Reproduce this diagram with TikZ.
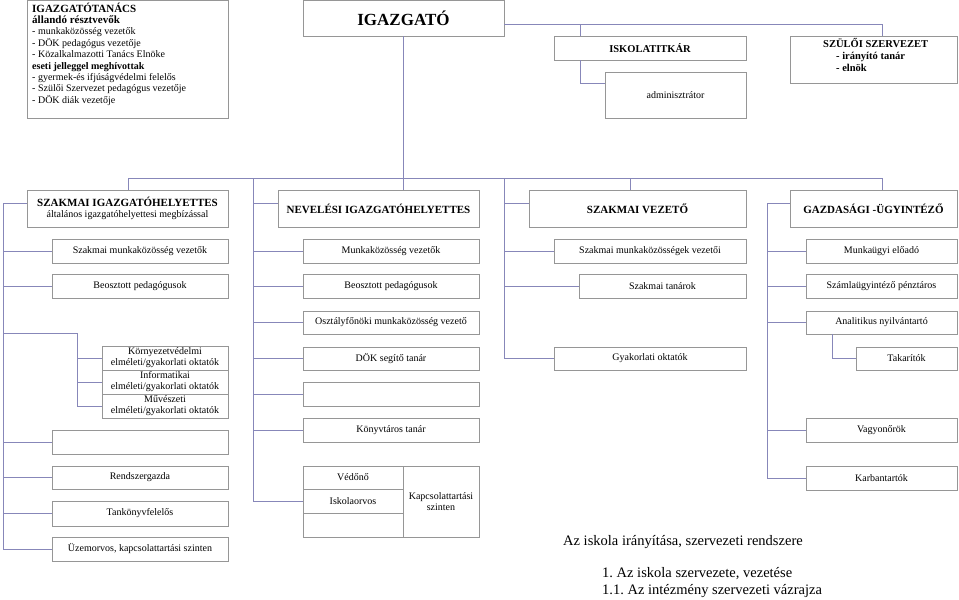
\documentclass[tikz,border=0pt]{standalone}
\usepackage{fontspec}
\setmainfont{Liberation Serif}
\frenchspacing
\definecolor{lnc}{RGB}{135,135,185}
\definecolor{boxc}{RGB}{150,150,150}
\newcommand\obox[6]{\node[bx, minimum width={#4-#2}, minimum height={#5-#3}] (#1) at ({(#2+#4)/2},{(#3+#5)/2}) {#6};}
\tikzset{
  bx/.style={draw=boxc, line width=0.8pt, rectangle, inner sep=0pt, align=center, font=\fontsize{10}{11}\selectfont},
  ln/.style={draw=lnc, line width=0.8pt},
  capt/.style={anchor=west, inner sep=0pt, font=\fontsize{14.5}{17}\selectfont},
}
\newcommand\hdr{\bfseries\fontsize{11}{13}\selectfont}
\begin{document}
\begin{tikzpicture}[x=1pt,y=-1pt]
\useasboundingbox (0,0) rectangle (959,600);
% top row
\obox{tanacs}{27}{0.5}{228}{118}{}
\node[anchor=north west, inner sep=0pt, align=left, font=\fontsize{10}{11.4}\selectfont] (tanacstxt) at (32,2.5)
 {{\hdr IGAZGATÓTANÁCS}\\{\hdr állandó résztvevők}\\- munkaközösség vezetők\\- DÖK pedagógus vezetője\\- Közalkalmazotti Tanács Elnöke\\\textbf{eseti jelleggel meghívottak}\\- gyermek-és ifjúságvédelmi felelős\\- Szülői Szervezet pedagógus vezetője\\- DÖK diák vezetője};
\obox{igaz}{303}{0.5}{504}{36}{\bfseries\fontsize{17}{20}\selectfont IGAZGATÓ}
\obox{titkar}{554}{36}{746}{60}{\bfseries\fontsize{10.5}{12}\selectfont ISKOLATITKÁR}
\obox{admin}{605}{72}{746}{118}{adminisztrátor}
\obox{szuloi}{790}{36}{957}{83}{}
\node[anchor=north west, inner sep=0pt, align=left, font=\bfseries\fontsize{10.5}{12}\selectfont] (szuloitxt) at (823,38)
 {SZÜLŐI SZERVEZET\\\hspace*{13pt}- irányító tanár\\\hspace*{13pt}- elnök};
% row 1
\obox{sih}{27}{190}{228}{227}{{\hdr SZAKMAI IGAZGATÓHELYETTES}\\általános igazgatóhelyettesi megbízással}
\obox{nih}{278}{190}{479}{227}{\hdr NEVELÉSI IGAZGATÓHELYETTES}
\obox{szv}{529}{190}{746}{227}{\hdr SZAKMAI VEZETŐ}
\obox{gaz}{790}{190}{957}{227}{\hdr GAZDASÁGI -ÜGYINTÉZŐ}
% row 2
\obox{r2a}{52}{239}{228}{263}{Szakmai munkaközösség vezetők}
\obox{r2b}{303}{239}{479}{263}{Munkaközösség vezetők}
\obox{r2c}{554}{239}{746}{263}{Szakmai munkaközösségek vezetői}
\obox{r2d}{806}{239}{957}{263}{Munkaügyi előadó}
% row 3
\obox{r3a}{52}{274}{228}{298}{Beosztott pedagógusok}
\obox{r3b}{303}{274}{479}{298}{Beosztott pedagógusok}
\obox{r3c}{579}{274}{746}{298}{Szakmai tanárok}
\obox{r3d}{806}{274}{957}{298}{Számlaügyintéző pénztáros}
% row 4
\obox{r4b}{303}{311}{479}{334}{Osztályfőnöki munkaközösség vezető}
\obox{r4d}{806}{311}{957}{334}{Analitikus nyilvántartó}
% left subgroup
\obox{k1}{102}{346}{228}{370}{Környezetvédelmi\\elméleti/gyakorlati oktatók}
\obox{k2}{102}{370}{228}{394}{Informatikai\\elméleti/gyakorlati oktatók}
\obox{k3}{102}{394}{228}{418}{Művészeti\\elméleti/gyakorlati oktatók}
\obox{eleft}{52}{430}{228}{454}{}
\obox{rendsz}{52}{466}{228}{489}{Rendszergazda}
\obox{tank}{52}{501}{228}{526}{Tankönyvfelelős}
\obox{uzem}{52}{537}{228}{561}{Üzemorvos, kapcsolattartási szinten}
% middle
\obox{dok}{303}{347}{479}{370}{DÖK segítő tanár}
\obox{emid}{303}{382}{479}{406}{}
\obox{konyv}{303}{418}{479}{442}{Könyvtáros tanár}
\obox{vedo}{303}{466}{403}{489}{Védőnő}
\obox{isko}{303}{489}{403}{513}{Iskolaorvos}
\obox{tempty}{303}{513}{403}{537}{}
\obox{kapcs}{403}{466}{479}{537}{Kapcsolattartási\\szinten}
% right
\obox{gyak}{554}{347}{746}{370}{Gyakorlati oktatók}
\obox{takar}{856}{347}{957}{370}{Takarítók}
\obox{vagyon}{806}{418}{957}{442}{Vagyonőrök}
\obox{karban}{806}{466}{957}{490}{Karbantartók}
% captions
\node[capt] (cap1) at (563,542) {Az iskola irányítása, szervezeti rendszere};
\node[capt] (cap2) at (602,574) {1. Az iskola szervezete, vezetése};
\node[capt] (cap3) at (602,591) {1.1. Az intézmény szervezeti vázrajza};
% connectors top
\coordinate (jr) at (504,24);
\coordinate (jt) at (580,24);
\coordinate (js) at (882,24);
\coordinate (ja) at (580,83);
\draw[ln] (jr) -- (js) -- (js |- szuloi.north);
\draw[ln] (jt) -- (jt |- titkar.north);
\draw[ln] (jt |- titkar.south) -- (ja) -- (ja -| admin.west);
\draw[ln] (igaz.south) -- (igaz.south |- nih.north);
\coordinate (hl) at (128,178);
\coordinate (hr) at (882,178);
\coordinate (hs) at (630,178);
\coordinate (ms) at (253,178);
\coordinate (vs) at (504,178);
\coordinate (y1) at (0,203);
\draw[ln] (hl) -- (hr);
\draw[ln] (hl) -- (hl |- sih.north);
\draw[ln] (hr) -- (hr |- gaz.north);
\draw[ln] (hs) -- (hs |- szv.north);
% middle spine
\draw[ln] (ms) |- (isko.west);
\draw[ln] (ms |- y1) -- (nih.west |- y1);
\foreach \n in {r2b,r3b,r4b,dok,emid,konyv} \draw[ln] (\n.west) -- (\n.west -| ms);
% left spine
\coordinate (ls) at (3,203);
\draw[ln] (ls) |- (uzem.west);
\draw[ln] (ls) -- (sih.west |- ls);
\foreach \n in {r2a,r3a,eleft,rendsz,tank} \draw[ln] (\n.west) -- (\n.west -| ls);
\coordinate (ks) at (77,333);
\draw[ln] (ls |- ks) -- (ks) |- (k3.west);
\draw[ln] (k1.west) -- (k1.west -| ks);
\draw[ln] (k2.west) -- (k2.west -| ks);
% szakmai vezeto spine
\draw[ln] (vs) |- (gyak.west);
\draw[ln] (vs |- y1) -- (szv.west |- y1);
\foreach \n in {r2c,r3c} \draw[ln] (\n.west) -- (\n.west -| vs);
% gazdasagi spine
\coordinate (gs) at (767,203);
\draw[ln] (gs) |- (karban.west);
\draw[ln] (gs) -- (gaz.west |- gs);
\foreach \n in {r2d,r3d,r4d,vagyon} \draw[ln] (\n.west) -- (\n.west -| gs);
\coordinate (ta) at (832,334);
\draw[ln] (ta) |- (takar.west);
\end{tikzpicture}
\end{document}
